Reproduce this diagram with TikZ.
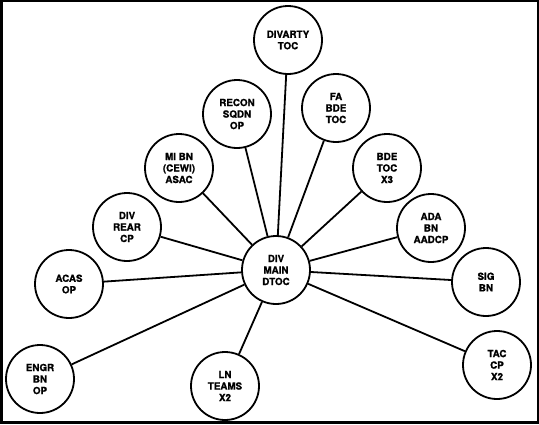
\documentclass[tikz,border=0pt]{standalone}
\usepackage{fontspec}
\setmainfont[BoldFeatures={FakeBold=1.2}]{TeX Gyre Heros}
\begin{document}
\begin{tikzpicture}[x=1pt,y=-1pt,
  unit/.style={circle,draw=black,line width=1.8pt,minimum size=68pt,inner sep=0pt,
    align=center,font=\bfseries\fontsize{9.8}{11.5}\selectfont},
  link/.style={line width=1.8pt}]
\fill[black] (0,0) rectangle (539,424);
\fill[white] (3,2) rectangle (536.5,420.5);
\useasboundingbox (0,0) rectangle (539,424);
\node[unit] (dtoc) at (276,270) {DIV\\MAIN\\DTOC};
\node[unit] (divarty) at (288,40) {DIVARTY\\TOC};
\node[unit] (recon) at (237,114) {RECON\\SQDN\\OP};
\node[unit] (fa) at (336,108) {FA\\BDE\\TOC};
\node[unit] (bde) at (387,168) {BDE\\TOC\\X3};
\node[unit] (mibn) at (179,168) {MI BN\\(CEWI)\\ASAC};
\node[unit] (rear) at (127,227) {DIV\\REAR\\CP};
\node[unit] (ada) at (431,228) {ADA\\BN\\AADCP};
\node[unit] (acas) at (69,284) {ACAS\\OP};
\node[unit] (sig) at (486,282) {SIG\\BN};
\node[unit] (engr) at (40,379) {ENGR\\BN\\OP};
\node[unit] (ln) at (225,386) {LN\\TEAMS\\X2};
\node[unit] (tac) at (497,365) {TAC\\CP\\X2};
\foreach \n in {divarty,recon,fa,bde,mibn,rear,ada,acas,sig,engr,ln,tac}
  \draw[link] (dtoc) -- (\n);
\end{tikzpicture}
\end{document}
